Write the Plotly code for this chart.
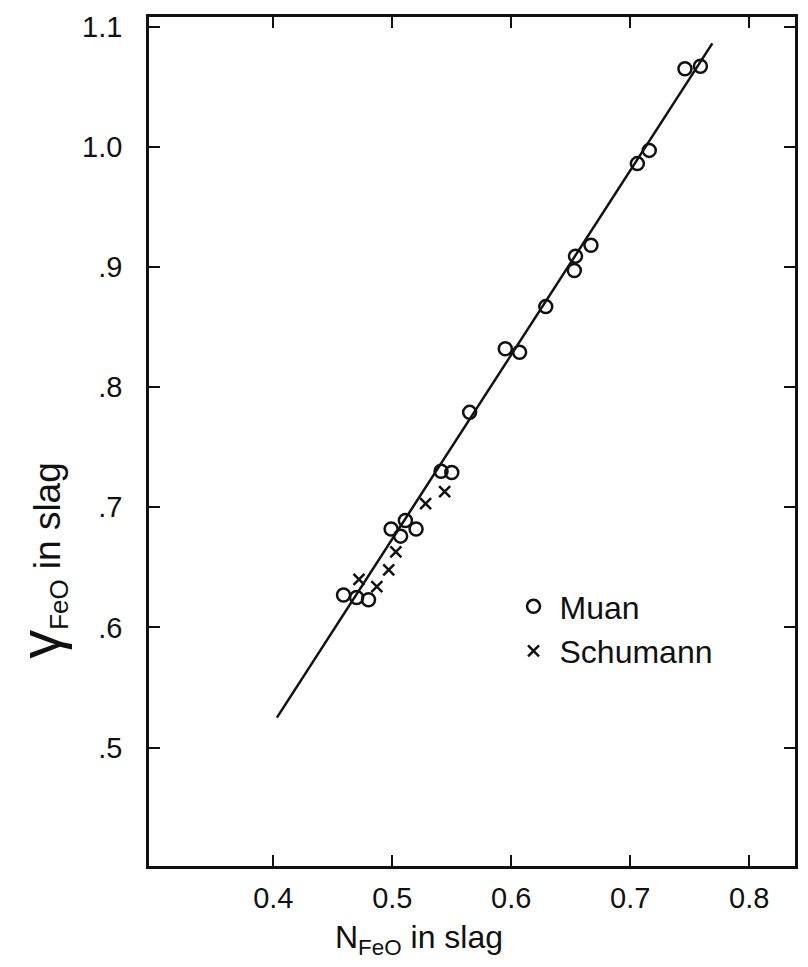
import plotly.graph_objects as go

# Muan: mole fraction of FeO vs activity coefficient of FeO in slag
muan_n = [0.459, 0.470, 0.480, 0.499, 0.507, 0.511, 0.520, 0.541, 0.550, 0.565,
          0.595, 0.607, 0.629, 0.653, 0.654, 0.667, 0.706, 0.716, 0.746, 0.759]
muan_gamma = [0.627, 0.625, 0.623, 0.682, 0.676, 0.689, 0.682, 0.730, 0.729, 0.779,
              0.832, 0.829, 0.867, 0.897, 0.909, 0.918, 0.986, 0.997, 1.065, 1.067]

# Schumann data
schumann_n = [0.472, 0.487, 0.497, 0.503, 0.528, 0.544]
schumann_gamma = [0.640, 0.634, 0.648, 0.663, 0.703, 0.713]

# Fitted straight line (end points)
fit_n = [0.403, 0.769]
fit_gamma = [0.525, 1.086]

x_ticks = [0.4, 0.5, 0.6, 0.7, 0.8]
x_labels = ["0.4", "0.5", "0.6", "0.7", "0.8"]
y_ticks = [0.5, 0.6, 0.7, 0.8, 0.9, 1.0, 1.1]
y_labels = [".5", ".6", ".7", ".8", ".9", "1.0", "1.1"]

FONT = "Liberation Sans"
INK = "#111111"

fig = go.Figure()

fig.add_trace(go.Scatter(
    x=fit_n, y=fit_gamma, mode="lines",
    line=dict(color=INK, width=2.5), showlegend=False, hoverinfo="skip"))

fig.add_trace(go.Scatter(
    x=muan_n, y=muan_gamma, mode="markers", name="Muan",
    marker=dict(symbol="circle-open", size=13, color=INK, line=dict(width=2.5))))

fig.add_trace(go.Scatter(
    x=schumann_n, y=schumann_gamma, mode="markers", name="Schumann",
    marker=dict(symbol="x-thin-open", size=11, color=INK, line=dict(width=2.5))))

axis_common = dict(
    showline=True, linecolor=INK, linewidth=2.5, mirror="ticks",
    ticks="inside", ticklen=11, tickwidth=2, tickcolor=INK,
    showgrid=False, zeroline=False,
    tickfont=dict(family=FONT, size=29, color=INK),
)

fig.update_xaxes(range=[0.2955, 0.8385], tickvals=x_ticks, ticktext=x_labels,
                 ticklabelstandoff=4, **axis_common)
fig.update_yaxes(range=[0.4015, 1.108], tickvals=y_ticks, ticktext=y_labels,
                 ticklabelstandoff=18, **axis_common)

fig.add_annotation(
    xref="paper", yref="paper", x=-0.168, y=0.36, xanchor="center", yanchor="middle",
    textangle=-90,
    text='<span style="font-size:58px">γ</span><sub>FeO</sub> in slag',
    showarrow=False, font=dict(family=FONT, size=37, color=INK))

fig.add_annotation(
    xref="paper", yref="paper", x=0.4176, y=-0.087, xanchor="center", yanchor="middle",
    text="N<sub>FeO</sub> in slag",
    showarrow=False, font=dict(family=FONT, size=32, color=INK))

fig.update_layout(
    width=808, height=967,
    margin=dict(l=149, r=10, t=17, b=101),
    paper_bgcolor="white", plot_bgcolor="white",
    legend=dict(x=0.555, y=0.338, xanchor="left", yanchor="top",
                font=dict(family=FONT, size=32, color=INK),
                bgcolor="rgba(0,0,0,0)", itemwidth=42),
)

fig.write_html("out.html")
